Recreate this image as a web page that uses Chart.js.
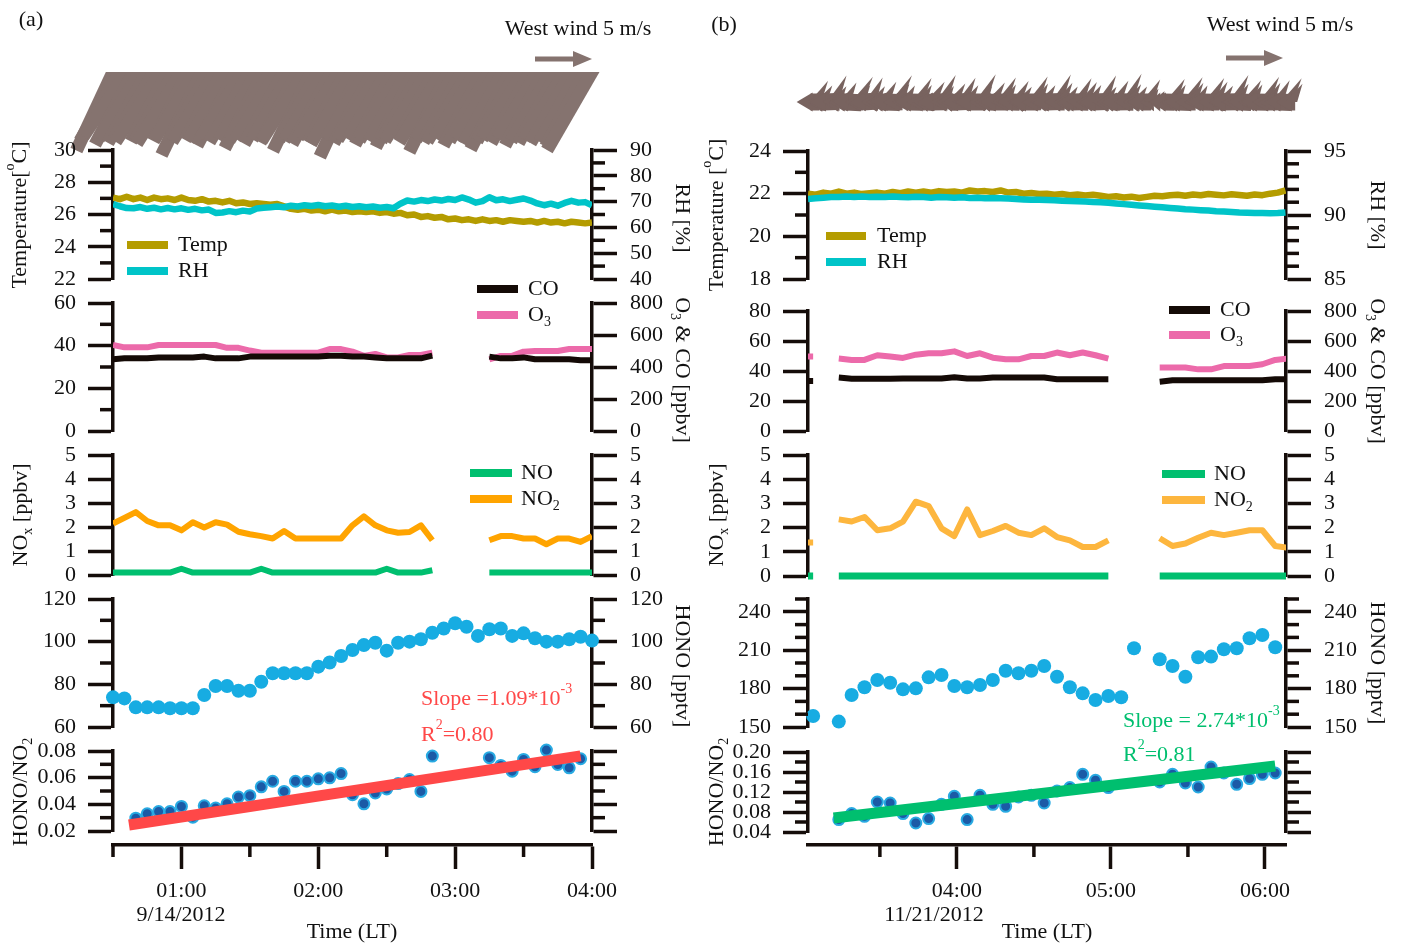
<!DOCTYPE html>
<html><head><meta charset="utf-8"><title>HONO time series</title>
<script src="https://cdn.jsdelivr.net/npm/chart.js@4.4.1/dist/chart.umd.min.js"></script>
<style>
html,body{margin:0;padding:0;background:#ffffff;}
#wrap{position:relative;width:1402px;height:947px;overflow:hidden;background:#ffffff;}
#wrap canvas{position:absolute;left:0;top:0;}
</style></head>
<body><div id="wrap"></div>
<script>
// ================= DATA (time = minutes after local midnight) =================
// ---- Panel (a): 9/14/2012 ----
const timeA3 = [30,33,36,39,42,45,48,51,54,57,60,63,66,69,72,75,78,81,84,87,90,93,96,99,102,105,108,111,114,117,120,123,126,129,132,135,138,141,144,147,150,153,156,159,162,165,168,171,174,177,180,183,186,189,192,195,198,201,204,207,210,213,216,219,222,225,228,231,234,237,240];
const tempA = [27.05,26.95,27.1,26.95,27.05,26.9,27.05,26.95,27.0,26.9,27.05,26.9,26.85,26.95,26.8,26.85,26.75,26.85,26.7,26.75,26.65,26.7,26.65,26.6,26.65,26.5,26.35,26.3,26.35,26.25,26.3,26.2,26.3,26.2,26.25,26.15,26.2,26.15,26.2,26.1,26.15,26.05,26.1,25.95,26.0,25.85,25.9,25.8,25.85,25.7,25.75,25.65,25.7,25.6,25.7,25.6,25.65,25.55,25.65,25.6,25.55,25.6,25.5,25.6,25.5,25.55,25.45,25.55,25.5,25.45,25.5];
const rhA = [69.0,68.2,67.5,67.4,67.9,67.2,67.6,67.0,67.5,67.0,67.4,66.8,67.2,66.6,66.9,65.6,65.8,66.3,65.9,66.5,66.2,67.3,67.6,67.8,68.1,67.8,68.4,68.1,68.6,68.3,68.7,68.2,68.5,68.0,68.4,67.9,68.2,67.8,68.1,67.6,67.9,67.4,69.2,70.4,70.0,70.6,70.2,70.8,70.4,71.0,70.6,71.6,70.8,69.6,70.2,71.7,70.5,70.9,70.2,70.7,71.2,70.4,69.3,68.6,69.2,68.4,69.5,70.3,69.6,69.8,68.6];
const timeA5 = [30,35,40,45,50,55,60,65,70,75,80,85,90,95,100,105,110,115,120,125,130,135,140,145,150,155,160,165,170,175,180,185,190,195,200,205,210,215,220,225,230,235,240];
const o3A = [40.3,39.2,39.2,39.2,40.3,40.3,40.3,40.3,40.3,40.3,39,39,37.7,36.7,36.7,36.7,36.7,36.7,36.7,38.4,38.4,37.2,35.2,36.1,34.5,34.5,35.6,35.6,36.7,null,null,null,null,33.6,35.2,35.2,37.2,37.5,37.5,37.5,38.4,38.4,38.4];
const coA = [448,454,454,454,460,460,460,460,465,454,454,454,465,465,465,465,465,465,465,471,471,465,465,460,454,454,454,454,471,null,null,null,null,465,454,454,460,448,448,448,448,442,442];
const noA = [0.1,0.1,0.1,0.1,0.1,0.1,0.26,0.1,0.1,0.1,0.1,0.1,0.1,0.26,0.1,0.1,0.1,0.1,0.1,0.1,0.1,0.1,0.1,0.1,0.26,0.1,0.1,0.1,0.2,null,null,null,null,0.1,0.1,0.1,0.1,0.1,0.1,0.1,0.1,0.1,0.1];
const no2A = [2.14,2.38,2.62,2.25,2.07,2.07,1.86,2.2,1.98,2.2,2.1,1.8,1.7,1.62,1.52,1.83,1.52,1.52,1.52,1.52,1.52,2.07,2.44,2.07,1.86,1.76,1.79,2.07,1.45,null,null,null,null,1.45,1.62,1.62,1.52,1.52,1.28,1.52,1.52,1.38,1.62];
const honoA = [73.9,73.4,69.2,69.2,69.2,68.8,68.8,68.8,75,79.2,79.2,77,77,81.2,85.2,85.2,85.2,85.2,88.3,90.2,93.3,96.1,98.4,99.5,95.8,99.5,100,101.1,104.2,106.2,108.6,107,102.7,105.8,106.2,102.7,103.9,101.6,100,100,101.1,102.3,100.5];
const ratioA = [null,null,0.0296,0.0329,0.0346,0.0346,0.0384,0.0304,0.0389,0.0372,0.0404,0.0455,0.0465,0.0531,0.0573,0.0497,0.0573,0.0573,0.0591,0.0599,0.0631,0.0472,0.0404,0.0485,0.0515,0.0556,0.0586,0.0497,0.0762,null,null,null,null,0.075,0.0692,0.0649,0.0737,0.0682,0.0807,0.0699,0.0674,0.0742,null];
const fitTimeA = [37, 235];
const fitA = [0.0245, 0.0763];
const windSpeedA = [7.6,7.0,6.8,7.2,6.9,7.1,6.8,7.3,6.9,7.0,7.4,6.8,7.0,8.1,6.9,7.2,6.8,7.0,7.3,6.9,7.1,6.8,7.5,7.0,6.9,7.2,6.8,7.0,7.1,7.7,6.9,7.0,7.2,6.8,7.0,7.3,8.2,6.9,7.1,7.0,6.8,7.2,7.0,6.9,7.4,7.0,7.1,6.8,7.2,7.8,6.9,7.0,7.1,6.8,7.3,7.0,6.9,7.2,7.6,7.0,6.9,7.1,6.8,7.3,7.0,7.1,6.9,7.2,7.0,7.4,7.9];
const windDirA = [205,210,214,208,212,209,211,213,208,210,212,207,211,206,210,212,209,211,208,213,210,209,207,211,212,209,210,208,212,206,210,211,209,212,208,210,205,211,209,212,210,208,211,209,207,210,212,209,211,206,210,209,211,212,208,210,211,209,207,210,212,209,211,208,210,209,211,210,209,208,210];

// ---- Panel (b): 11/21/2012 ----
const timeB3 = [182,185,188,191,194,197,200,203,206,209,212,215,218,221,224,227,230,233,236,239,242,245,248,251,254,257,260,263,266,269,272,275,278,281,284,287,290,293,296,299,302,305,308,311,314,317,320,323,326,329,332,335,338,341,344,347,350,353,356,359,362,365,368];
const tempB = [22.0,21.95,22.05,22.0,22.1,22.0,22.05,21.98,22.02,22.05,22.0,22.08,22.02,22.1,22.05,22.1,22.05,22.12,22.08,22.1,22.05,22.15,22.1,22.12,22.08,22.15,22.05,22.08,22.0,22.03,21.98,22.0,21.95,21.98,21.93,21.96,21.92,21.95,21.9,21.85,21.88,21.82,21.86,21.8,21.85,21.9,21.88,21.93,21.95,21.9,21.96,21.93,21.98,21.95,21.92,21.97,21.94,21.9,21.96,21.93,22.0,22.05,22.15];
const rhB = [91.25,91.3,91.35,91.4,91.4,91.45,91.4,91.45,91.4,91.42,91.4,91.45,91.4,91.38,91.42,91.4,91.35,91.4,91.38,91.35,91.38,91.32,91.35,91.3,91.32,91.3,91.28,91.25,91.22,91.2,91.2,91.18,91.15,91.12,91.1,91.08,91.05,91.02,91.0,90.95,90.9,90.85,90.8,90.75,90.7,90.65,90.6,90.55,90.5,90.45,90.42,90.38,90.35,90.3,90.27,90.24,90.2,90.18,90.15,90.15,90.14,90.16,90.2];
const timeB5 = [179,184,189,194,199,204,209,214,219,224,229,234,239,244,249,254,259,264,269,274,279,284,289,294,299,304,309,314,319,324,329,334,339,344,349,354,359,364,369];
const o3B = [49.6,49.6,null,48.3,47.4,47.4,50.5,49.6,48.7,50.9,51.8,51.8,53.1,50,51.8,48.9,47.8,47.8,50,50,52.3,50.5,52.3,50.5,48.3,null,null,null,42.3,42.3,42.3,41.1,41.1,43.3,43.3,43.3,44.5,47.4,48.3];
const coB = [333,333,null,356,349,349,349,349,350,350,350,350,358,350,350,356,356,356,356,356,345,345,345,345,345,null,null,null,329,338,338,338,338,338,338,338,338,345,345];
const noB = [0,0,null,0,0,0,0,0,0,0,0,0,0,0,0,0,0,0,0,0,0,0,0,0,0,null,null,null,0,0,0,0,0,0,0,0,0,0,0];
const no2B = [1.38,1.38,null,2.34,2.25,2.44,1.89,1.97,2.25,3.07,2.89,1.97,1.65,2.75,1.69,1.86,2.07,1.79,1.69,1.97,1.61,1.47,1.2,1.2,1.47,null,null,null,1.56,1.24,1.34,1.58,1.79,1.69,1.79,1.89,1.89,1.24,1.17];
const honoB = [null,158.6,null,154.2,175,181,186.7,184.6,179.4,180.2,188.8,190.6,182,181,182.8,186.7,194,192,194,197.7,189.3,181,176.3,171.1,174.2,173.2,211.5,null,202.9,197.7,189.3,204.5,205,210.7,211.5,219.3,221.9,212.3,null];
const ratioB = [null,null,null,0.0648,0.0768,0.0714,0.1,0.098,0.0768,0.058,0.0668,0.0954,0.1114,0.0648,0.1134,0.0954,0.0914,0.11,0.1134,0.098,0.122,0.1288,0.1554,0.1434,0.1288,null,null,null,0.14,0.1554,0.138,0.13,0.17,0.158,0.1354,0.1468,0.1554,0.158,null];
const fitTimeB = [192, 364];
const fitB = [0.068, 0.172];
const windSpeedB = [2.0,1.6,2.4,1.5,1.8,2.5,1.6,2.2,1.5,1.9,2.6,1.7,1.5,2.3,1.6,2.0,2.5,1.5,1.8,2.2,1.6,2.6,1.5,1.9,2.3,1.6,2.0,1.5,2.4,1.7,1.6,2.5,1.8,1.5,2.2,1.9,1.6,2.4,1.5,2.0,2.6,1.7,1.5,2.1,1.2,1.0,2.2,1.6,2.4,1.8,1.5,2.3,1.9,1.6,2.5,1.7,2.1,1.6,2.4,1.8,2.0,2.3,1.7];
const windDirB = [90,92,88,91,89,93,90,87,91,90,92,89,88,91,90,93,89,90,92,88,91,90,89,92,90,88,91,93,90,89,91,88,90,92,89,91,90,88,93,90,89,91,92,90,88,90,91,89,92,90,88,91,90,93,89,90,92,88,91,90,89,92,90];
const windRefSpeed = 5; // legend arrow, m/s

// ---- tick values & labels ----
const xMajorA = [60,120,180,240], xMinorA = [30,90,150,210];
const xLabelsA = ['01:00','02:00','03:00','04:00'], dateA = '9/14/2012';
const xMajorB = [240,300,360], xMinorB = [210,270,330];
const xLabelsB = ['04:00','05:00','06:00'], dateB = '11/21/2012';
const tempTicksA = [22,24,26,28,30], tempMinorA = [23,25,27,29];
const rhTicksA = [40,50,60,70,80,90], rhMinorA = [45,55,65,75,85];
const o3TicksA = [0,20,40,60], o3MinorA = [10,30,50];
const coTicks = [0,200,400,600,800];
const noxTicks = [0,1,2,3,4,5];
const honoTicksA = [60,80,100,120], honoMinorA = [70,90,110];
const ratioTicksA = [0.02,0.04,0.06,0.08], ratioMinorA = [0.03,0.05,0.07];
const tempTicksB = [18,20,22,24], tempMinorB = [19,21,23];
const rhTicksB = [85,90,95], rhMinorB = [86,87,88,89,91,92,93,94];
const o3TicksB = [0,20,40,60,80];
const honoTicksB = [150,180,210,240], honoMinorB = [160,170,190,200,220,230,250];
const ratioTicksB = [0.04,0.08,0.12,0.16,0.20], ratioMinorB = [0.06,0.10,0.14,0.18];

// ================= STYLE / LAYOUT =================
const W = 1402, H = 947;
const FONT = '"Liberation Serif","Times New Roman",serif';
const FS = 22;
const AXC = '#150d0a', TXT = '#111111';
const TEMP_C = '#b49c00', RH_C = '#00c4c8', CO_C = '#140a06', O3_C = '#ec6aaa';
const NO_C = '#00bf6f', NO2A_C = '#ffa400', NO2B_C = '#fdb63e';
const HONO_C = '#17ace2', RAT_FILL = '#1b5aa6', RAT_BORDER = '#28aae2';
const FITA_C = '#ff4848', FITB_C = '#00bf6f';
const WINDA_C = '#85736f', WINDB_C = '#78635f';
const PX_PER_MS = 11.4;
const PA = {cl:0, cr:700, left:113, right:592, xMin:30, xMax:240};
const PB = {cl:700, cr:1402, left:808, right:1286, xMin:182, xMax:368.2};
const wrap = document.getElementById('wrap');

function pts(times, vals){ return times.map((t,i)=>({x:t, y:vals[i]})); }
function newChart(config){
  const c = document.createElement('canvas');
  c.width = W; c.height = H; c.style.width = W+'px'; c.style.height = H+'px';
  wrap.appendChild(c);
  return new Chart(c.getContext('2d'), config);
}
function drawRich(ctx, it){
  const size = it.size || FS;
  const parts = it.parts.map(p => typeof p === 'string' ? {t:p} : p);
  ctx.save();
  ctx.translate(it.x, it.y);
  if (it.rot) ctx.rotate(it.rot*Math.PI/180);
  ctx.textBaseline = 'middle'; ctx.textAlign = 'left'; ctx.fillStyle = it.color || TXT;
  const f = p => ((p.sub||p.sup) ? Math.round(size*0.64) : size) + 'px ' + FONT;
  let w = 0;
  const ws = parts.map(p => { ctx.font = f(p); const m = ctx.measureText(p.t).width; w += m; return m; });
  let x = it.align === 'left' ? 0 : -w/2;
  parts.forEach((p,i) => { ctx.font = f(p); const dy = p.sub ? size*0.32 : (p.sup ? -size*0.45 : 0); ctx.fillText(p.t, x, dy); x += ws[i]; });
  ctx.restore();
}
function arrow(ctx, x1, y1, x2, y2, sw, hl, hw){
  const dx = x2-x1, dy = y2-y1, L = Math.hypot(dx,dy) || 1;
  const ux = dx/L, uy = dy/L;
  if (!hw){ ctx.lineWidth = sw; ctx.beginPath(); ctx.moveTo(x1,y1); ctx.lineTo(x2+ux*12, y2+uy*12); ctx.stroke(); return; }
  const h = Math.min(hl, L);
  const bx = x2-ux*h, by = y2-uy*h;
  if (L > h){ ctx.lineWidth = sw; ctx.beginPath(); ctx.moveTo(x1,y1); ctx.lineTo(bx+ux*2, by+uy*2); ctx.stroke(); }
  ctx.beginPath(); ctx.moveTo(x2,y2); ctx.lineTo(bx-uy*hw, by+ux*hw); ctx.lineTo(bx+uy*hw, by-ux*hw); ctx.closePath(); ctx.fill();
}
function decoPlugin(items){
  return {id:'deco', afterDraw(chart){
    const ctx = chart.ctx;
    items.forEach(it => {
      if (it.kind === 'swatch'){
        ctx.save(); ctx.strokeStyle = it.color; ctx.lineWidth = 8; ctx.lineCap = 'butt';
        ctx.beginPath(); ctx.moveTo(it.x1, it.y); ctx.lineTo(it.x2, it.y); ctx.stroke(); ctx.restore();
      } else if (it.kind === 'arrow'){
        ctx.save(); ctx.fillStyle = it.color; ctx.strokeStyle = it.color; ctx.lineCap = 'butt';
        arrow(ctx, it.x, it.y, it.x + it.len, it.y, 5, 19, 8); ctx.restore();
      } else drawRich(ctx, it);
    });
  }};
}
function minorTicks(list){
  return {id:'minorTicks', afterDraw(chart){
    const ctx = chart.ctx; ctx.save(); ctx.strokeStyle = AXC; ctx.lineWidth = 3.5; ctx.lineCap = 'butt';
    list.forEach(m => { const s = chart.scales[m.id];
      m.values.forEach(v => { const p = s.getPixelForValue(v); ctx.beginPath();
        if (s.position === 'left'){ ctx.moveTo(s.right, p); ctx.lineTo(s.right - m.len, p); }
        else if (s.position === 'right'){ ctx.moveTo(s.left, p); ctx.lineTo(s.left + m.len, p); }
        else { ctx.moveTo(p, s.top); ctx.lineTo(p, s.top + m.len); }
        ctx.stroke(); }); });
    ctx.restore();
  }};
}
function windPlugin(c){
  return {id:'wind', afterDraw(chart){
    const ctx = chart.ctx, xs = chart.scales.x, y0 = chart.chartArea.top;
    ctx.save(); ctx.fillStyle = c.color; ctx.strokeStyle = c.color; ctx.lineCap = 'butt'; ctx.lineJoin = 'miter';
    if (c.clipTop){ ctx.beginPath(); ctx.rect(0, y0, W, H - y0); ctx.clip(); }
    c.time.forEach((t,i) => {
      const L = c.speed[i]*PX_PER_MS;
      const b = (c.dir[i] + 180)*Math.PI/180;
      const ux = Math.sin(b), uy = -Math.cos(b);
      const px = xs.getPixelForValue(t);
      let tipX, tipY;
      if (c.anchor === 'tip'){ tipX = px; tipY = y0; } else { tipX = px + ux*L/2; tipY = y0 + uy*L/2; }
      const tailX = tipX - ux*L, tailY = tipY - uy*L;
      arrow(ctx, tailX, tailY, tipX, tipY, c.shaft, c.headL, c.headW);
      if (c.barbK){
        const B = c.speed[i]*c.barbK, bx = -ux, by = -uy, a = c.barbAngle*Math.PI/180;
        const rx = bx*Math.cos(a) - by*Math.sin(a), ry = bx*Math.sin(a) + by*Math.cos(a);
        ctx.beginPath(); ctx.moveTo(tailX + ux*c.barbBase, tailY + uy*c.barbBase);
        ctx.lineTo(tailX + rx*B, tailY + ry*B); ctx.lineTo(tailX + bx*2, tailY + by*2); ctx.closePath(); ctx.fill();
      }
    });
    ctx.restore();
  }};
}
function yAxis(P, pos, min, max, majors, labelFn){
  const left = pos === 'left';
  return {
    type:'linear', position:pos, min, max,
    afterFit: s => { s.width = left ? P.left - P.cl : P.cr - P.right; },
    afterBuildTicks: s => { s.ticks = majors.map(v => ({value:v})); },
    ticks:{callback: labelFn, autoSkip:false, font:{family:FONT, size:FS}, color:TXT, padding: left ? 12 : 13},
    grid:{drawOnChartArea:false, drawTicks:true, tickLength:25, tickWidth:3.5, tickColor:AXC, color:AXC},
    border:{display:true, width:3.5, color:AXC}
  };
}
const CLIPX = {left:0, right:0, top:false, bottom:false};
function lineDs(times, vals, color, width, axis){
  return {data:pts(times, vals), yAxisID:axis, borderColor:color, backgroundColor:color, borderWidth:width,
    pointRadius:0, pointHoverRadius:0, tension:0, spanGaps:false, clip:CLIPX, borderJoinStyle:'round', borderCapStyle:'butt'};
}
function dotDs(times, vals, fill, border, r, bw, axis){
  return {data:pts(times, vals), yAxisID:axis, showLine:false, pointRadius:r, pointHoverRadius:r,
    pointBackgroundColor:fill, pointBorderColor:border, pointBorderWidth:bw, clip:false};
}
function subplot(P, top, bottom, yL, yR, datasets, minors, deco){
  return newChart({type:'line', data:{datasets},
    options:{responsive:false, animation:false, devicePixelRatio:1, events:[],
      layout:{padding:{left:P.cl, right:W-P.cr, top:top, bottom:H-bottom}},
      plugins:{legend:{display:false}, tooltip:{enabled:false}},
      scales:{x:{type:'linear', min:P.xMin, max:P.xMax, display:false}, y:yL, y2:yR}},
    plugins:[minorTicks(minors), decoPlugin(deco)]});
}
function windChart(P, anchorY, cfg){
  return newChart({type:'line', data:{datasets:[]},
    options:{responsive:false, animation:false, devicePixelRatio:1, events:[],
      layout:{padding:{left:P.left, right:W-P.right, top:anchorY, bottom:H-anchorY-40}},
      plugins:{legend:{display:false}, tooltip:{enabled:false}},
      scales:{x:{type:'linear', min:P.xMin, max:P.xMax, display:false}, y:{type:'linear', min:0, max:1, display:false}}},
    plugins:[windPlugin(cfg)]});
}
function xAxisChart(P, majors, minors, labels, deco){
  return newChart({type:'line', data:{datasets:[]},
    options:{responsive:false, animation:false, devicePixelRatio:1, events:[],
      layout:{padding:{left:P.left, right:W-P.right, top:835, bottom:0}},
      plugins:{legend:{display:false}, tooltip:{enabled:false}},
      scales:{
        x:{type:'linear', position:'bottom', min:P.xMin, max:P.xMax,
          afterFit: s => { s.height = H - 845; },
          afterBuildTicks: s => { s.ticks = majors.map(v => ({value:v})); },
          ticks:{autoSkip:false, maxRotation:0, minRotation:0, padding:9, color:TXT,
            font:{family:FONT, size:FS, lineHeight:1.2},
            callback:(v,i) => labels[i]},
          grid:{drawOnChartArea:false, drawTicks:true, tickLength:24, tickWidth:3.5, tickColor:AXC, color:AXC},
          border:{display:true, width:3.5, color:AXC}},
        y:{type:'linear', min:0, max:1, display:false}}},
    plugins:[minorTicks([{id:'x', values:minors, len:12}]), decoPlugin(deco)]});
}
const intLbl = v => String(v);
const noLbl = () => '';
const sw = (x1,x2,y,color) => ({kind:'swatch', x1, x2, y, color});
const tx = (parts,x,y,extra) => Object.assign({parts, x, y}, extra || {});

// ================= PANEL (a) =================
windChart(PA, 72, {time:timeA3, speed:windSpeedA, dir:windDirA, anchor:'tip', clipTop:true, color:WINDA_C, shaft:13, headL:0, headW:0, barbK:0});
subplot(PA, 150, 279,
  yAxis(PA,'left',22,30,tempTicksA,intLbl), yAxis(PA,'right',40,90,rhTicksA,intLbl),
  [lineDs(timeA3, rhA, RH_C, 6.5, 'y2'), lineDs(timeA3, tempA, TEMP_C, 6.5, 'y')],
  [{id:'y', values:tempMinorA, len:13}, {id:'y2', values:rhMinorA, len:13}],
  [tx(['Temperature[',{t:'o',sup:1},'C]'],20,215,{rot:-90}), tx(['RH [%]'],682,218,{rot:90}),
   sw(127,168,245,TEMP_C), tx(['Temp'],178,245,{align:'left'}), sw(127,168,271,RH_C), tx(['RH'],178,271,{align:'left'})]);
subplot(PA, 303, 431,
  yAxis(PA,'left',0,60,o3TicksA,intLbl), yAxis(PA,'right',0,800,coTicks,intLbl),
  [lineDs(timeA5, coA, CO_C, 6, 'y2'), lineDs(timeA5, o3A, O3_C, 6, 'y')],
  [{id:'y', values:o3MinorA, len:13}],
  [tx(['O',{t:'3',sub:1},' & CO [ppbv]'],682,370,{rot:90}),
   sw(477,518,289,CO_C), tx(['CO'],528,289,{align:'left'}), sw(477,518,315,O3_C), tx(['O',{t:'3',sub:1}],528,315,{align:'left'})]);
subplot(PA, 455, 575,
  yAxis(PA,'left',0,5,noxTicks,intLbl), yAxis(PA,'right',0,5,noxTicks,intLbl),
  [lineDs(timeA5, noA, NO_C, 6, 'y'), lineDs(timeA5, no2A, NO2A_C, 6, 'y')],
  [],
  [tx(['NO',{t:'x',sub:1},' [ppbv]'],21,515,{rot:-90}),
   sw(470,512,473,NO_C), tx(['NO'],521,473,{align:'left'}), sw(470,512,499,NO2A_C), tx(['NO',{t:'2',sub:1}],521,499,{align:'left'})]);
subplot(PA, 599, 727,
  yAxis(PA,'left',60,120,honoTicksA,intLbl), yAxis(PA,'right',60,120,honoTicksA,intLbl),
  [dotDs(timeA5, honoA, HONO_C, HONO_C, 7, 0, 'y')],
  [{id:'y', values:honoMinorA, len:13}, {id:'y2', values:honoMinorA, len:13}],
  [tx(['HONO [pptv]'],682,666,{rot:90})]);
subplot(PA, 751, 831,
  yAxis(PA,'left',0.02,0.08,ratioTicksA,v=>v.toFixed(2)), yAxis(PA,'right',0.02,0.08,ratioTicksA,noLbl),
  [lineDs(fitTimeA, fitA, FITA_C, 11, 'y'), dotDs(timeA5, ratioA, RAT_FILL, RAT_BORDER, 5.5, 2, 'y')],
  [{id:'y', values:ratioMinorA, len:13}, {id:'y2', values:ratioMinorA, len:13}],
  [tx(['HONO/NO',{t:'2',sub:1}],21,792,{rot:-90}),
   tx(['Slope =1.09*10',{t:'-3',sup:1}],421,699,{align:'left', color:FITA_C}),
   tx(['R',{t:'2',sup:1},'=0.80'],421,735,{align:'left', color:FITA_C})]);
xAxisChart(PA, xMajorA, xMinorA, xLabelsA,
  [tx(['(a)'],31,20), tx(['West wind 5 m/s'],578,29),
   {kind:'arrow', x:535, y:59, len:windRefSpeed*PX_PER_MS, color:WINDA_C},
   tx([dateA],181,915), tx(['Time (LT)'],352,932)]);

// ================= PANEL (b) =================
windChart(PB, 102, {time:timeB3, speed:windSpeedB, dir:windDirB, anchor:'center', color:WINDB_C, shaft:17, headL:16, headW:9.5, barbK:11.5, barbAngle:-68, barbBase:10});
subplot(PB, 151, 279,
  yAxis(PB,'left',18,24,tempTicksB,intLbl), yAxis(PB,'right',85,95,rhTicksB,intLbl),
  [lineDs(timeB3, rhB, RH_C, 6.5, 'y2'), lineDs(timeB3, tempB, TEMP_C, 6.5, 'y')],
  [{id:'y', values:tempMinorB, len:13}, {id:'y2', values:rhMinorB, len:13}],
  [tx(['Temperature [',{t:'o',sup:1},'C]'],717,215,{rot:-90}), tx(['RH [%]'],1377,215,{rot:90}),
   sw(826,866,236,TEMP_C), tx(['Temp'],877,236,{align:'left'}), sw(826,866,262,RH_C), tx(['RH'],877,262,{align:'left'})]);
subplot(PB, 311, 431,
  yAxis(PB,'left',0,80,o3TicksB,intLbl), yAxis(PB,'right',0,800,coTicks,intLbl),
  [lineDs(timeB5, coB, CO_C, 6, 'y2'), lineDs(timeB5, o3B, O3_C, 6, 'y')],
  [],
  [tx(['O',{t:'3',sub:1},' & CO [ppbv]'],1377,371,{rot:90}),
   sw(1169,1210,310,CO_C), tx(['CO'],1220,310,{align:'left'}), sw(1169,1210,335,O3_C), tx(['O',{t:'3',sub:1}],1220,335,{align:'left'})]);
subplot(PB, 455, 576,
  yAxis(PB,'left',0,5,noxTicks,intLbl), yAxis(PB,'right',0,5,noxTicks,intLbl),
  [lineDs(timeB5, noB, NO_C, 7, 'y'), lineDs(timeB5, no2B, NO2B_C, 6, 'y')],
  [],
  [tx(['NO',{t:'x',sub:1},' [ppbv]'],717,515,{rot:-90}),
   sw(1162,1205,474,NO_C), tx(['NO'],1214,474,{align:'left'}), sw(1162,1205,500,NO2B_C), tx(['NO',{t:'2',sub:1}],1214,500,{align:'left'})]);
subplot(PB, 599, 727,
  yAxis(PB,'left',150,250,honoTicksB,intLbl), yAxis(PB,'right',150,250,honoTicksB,intLbl),
  [dotDs(timeB5, honoB, HONO_C, HONO_C, 7, 0, 'y')],
  [{id:'y', values:honoMinorB, len:13}, {id:'y2', values:honoMinorB, len:13}],
  [tx(['HONO [pptv]'],1377,663,{rot:90})]);
subplot(PB, 752, 832,
  yAxis(PB,'left',0.04,0.20,ratioTicksB,v=>v.toFixed(2)), yAxis(PB,'right',0.04,0.20,ratioTicksB,noLbl),
  [lineDs(fitTimeB, fitB, FITB_C, 11, 'y'), dotDs(timeB5, ratioB, RAT_FILL, RAT_BORDER, 5.5, 2, 'y')],
  [{id:'y', values:ratioMinorB, len:13}, {id:'y2', values:ratioMinorB, len:13}],
  [tx(['HONO/NO',{t:'2',sub:1}],717,792,{rot:-90}),
   tx(['Slope = 2.74*10',{t:'-3',sup:1}],1123,721,{align:'left', color:FITB_C}),
   tx(['R',{t:'2',sup:1},'=0.81'],1123,755,{align:'left', color:FITB_C})]);
xAxisChart(PB, xMajorB, xMinorB, xLabelsB,
  [tx(['(b)'],724,25), tx(['West wind 5 m/s'],1280,25),
   {kind:'arrow', x:1226, y:58, len:windRefSpeed*PX_PER_MS, color:WINDA_C},
   tx([dateB],934,915), tx(['Time (LT)'],1047,932)]);
</script>
</body></html>
